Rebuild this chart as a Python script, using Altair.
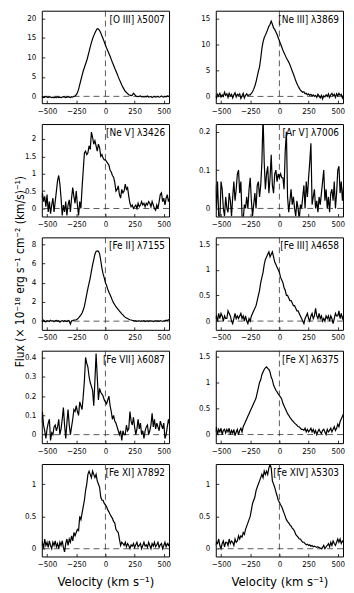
import altair as alt
import pandas as pd

# velocity grid (km/s)
VELOCITY = list(range(-550, 551, 10))
X_TICKS = [-500, -250, 0, 250, 500]

O_III_5007 = [
    -0.2, -0.1, -0.3, -0.2, 0.0, -0.2, -0.3, -0.1, -0.2, -0.3,
    -0.2, -0.4, -0.2, -0.3, -0.1, -0.3, -0.2, -0.3, -0.2, -0.1,
    -0.2, -0.3, -0.2, -0.1, -0.2, -0.3, -0.1, -0.2, 0.0, 0.1,
    0.4, 0.9, 1.8, 3.0, 4.2, 5.4, 6.5, 7.4, 8.3, 9.2,
    10.3, 11.5, 12.7, 13.8, 14.8, 15.6, 16.3, 16.9, 17.4, 17.3,
    16.9, 16.3, 15.5, 14.8, 14.0, 13.2, 12.4, 11.7, 11.0, 10.3,
    9.5, 8.7, 8.0, 7.2, 6.5, 5.8, 5.0, 4.3, 3.6, 2.9,
    2.3, 1.8, 1.3, 1.0, 0.7, 0.4, 0.3, 0.2, 0.3, 0.8,
    0.5, 0.1, 0.0, -0.1, 0.0, 0.1, -0.1, 0.0, -0.2, 0.0,
    -0.1, 0.1, -0.2, -0.1, 0.0, -0.3, -0.1, 0.0, -0.2, -0.1,
    0.0, -0.2, -0.1, 0.1, -0.1, -0.2, 0.0, -0.1, 0.1, 0.0,
    0.1,
]

NE_III_3869 = [
    0.2, -0.3, 0.4, 0.1, 0.6, -0.1, 0.3, 0.0, 0.8, 0.2,
    0.5, -0.2, 0.6, 0.1, 0.4, -0.3, 0.3, 0.7, -0.1, 0.4,
    0.2, 0.5, -0.4, 0.1, 0.6, -0.3, 0.2, 0.5, 0.1, 0.3,
    0.3, 0.6, 0.9, 1.4, 2.0, 2.8, 3.8, 4.8, 5.7, 7.3,
    9.2, 10.5, 11.3, 11.8, 12.3, 12.9, 13.5, 13.9, 14.5, 13.9,
    13.2, 12.9, 12.4, 11.9, 11.3, 10.7, 10.1, 9.5, 8.9, 8.4,
    7.9, 7.4, 7.0, 6.6, 6.1, 5.5, 4.9, 4.3, 3.7, 3.0,
    2.5, 2.0, 1.6, 1.2, 1.0, 0.8, 0.9, 0.5, 0.6, 0.3,
    0.5, 0.2, 0.4, 0.1, 0.3, 0.0, 0.2, -0.2, 0.4, 0.1,
    -0.3, 0.2, -0.5, 0.1, -0.1, 0.3, 0.0, 0.5, -0.2, 0.3,
    0.6, 0.1, 0.4, -0.2, 0.5, 0.1, 0.6, 0.2, 0.4, -0.3,
    0.3,
]

NE_V_3426 = [
    0.3, 0.45, 0.2, 0.35, 0.05, 0.4, -0.1, 0.2, -0.15, 0.1,
    0.3, -0.1, 0.2, 0.5, 0.8, 0.95, 0.7, 0.3, -0.2, 0.1,
    -0.1, 0.2, -0.2, 0.1, 0.25, -0.1, 0.3, 0.6, 0.35, 0.15,
    0.5, 0.1, -0.2, 0.2, 0.0, 0.6, 1.1, 1.6, 1.65, 1.55,
    1.6, 1.8, 1.7, 2.2, 2.05, 1.85, 1.95, 1.8, 1.65, 1.85,
    1.75, 1.5, 1.55, 1.45, 1.4, 1.4, 1.35, 1.3, 1.25, 1.1,
    1.05, 0.95, 0.9, 0.75, 0.5, 0.55, 0.65, 0.4, 0.3, 0.55,
    0.45, 0.5, 0.7, 0.55, 0.6, 0.35, 0.15, 0.05, 0.1, 0.0,
    0.05, 0.1, 0.0, 0.15, 0.05, 0.1, 0.2, 0.1, 0.15, 0.05,
    0.15, 0.1, 0.2, 0.15, 0.05, 0.2, 0.1, 0.0, -0.05, 0.1,
    0.0, 0.2, 0.4, 0.45, 0.2, 0.3, 0.1, 0.3, 0.4, 0.2,
    0.3,
]

AR_V_7006 = [
    0.06, 0.0, 0.07, -0.02, -0.03, 0.07, 0.05, 0.0, -0.02, 0.03,
    0.0, -0.01, 0.04, 0.02, -0.02, 0.03, 0.07, 0.02, 0.05, 0.09,
    0.1, 0.04, 0.07, -0.02, -0.03, 0.01, 0.0, 0.03, 0.0, 0.05,
    0.08, 0.02, -0.02, 0.01, 0.04, 0.0, 0.06, 0.07, 0.03, 0.06,
    0.12, 0.24, 0.12, 0.05, 0.09, 0.11, 0.04, 0.08, 0.14, 0.06,
    0.04, 0.09, 0.1, 0.07, 0.09, 0.08, 0.09, 0.08, 0.08, 0.05,
    0.15, 0.2, 0.03, -0.01, 0.02, 0.05, 0.01, 0.03, 0.0, -0.02,
    0.02, 0.0, -0.03, 0.01, 0.0, 0.03, 0.06, 0.0, 0.07, 0.03,
    0.08, 0.12, 0.17, 0.01, 0.03, 0.05, 0.0, 0.02, -0.01, 0.03,
    0.01, 0.04, 0.07, 0.1, 0.02, 0.05, 0.0, 0.03, -0.01, 0.04,
    0.05, 0.02, 0.07, 0.0, 0.04, 0.1, 0.11, 0.04, 0.07, 0.02,
    0.06,
]

FE_II_7155 = [
    0.05, -0.05, 0.1, 0.0, -0.08, 0.06, 0.02, -0.04, 0.08, 0.0,
    0.05, -0.06, 0.03, 0.07, -0.02, 0.04, -0.1, 0.02, 0.06, -0.03,
    0.05, 0.0, -0.05, 0.08, 0.02, -0.3, 0.03, 0.05, 0.1, 0.12,
    0.15, 0.22, 0.35, 0.5, 0.65, 0.85, 1.15, 1.55, 2.15, 2.8,
    3.4, 3.95, 4.5, 5.2, 5.85, 6.4, 6.95, 7.25, 7.3, 7.25,
    7.0, 6.3, 5.5, 4.9, 4.5, 4.0, 3.7, 3.3, 3.0, 2.75,
    2.45, 2.15, 1.9, 1.7, 1.5, 1.35, 1.2, 1.05, 0.9, 0.75,
    0.65, 0.5, 0.4, 0.32, 0.27, 0.2, 0.15, 0.12, 0.08, 0.05,
    0.0, 0.05, -0.03, 0.02, 0.04, -0.02, 0.03, 0.0, 0.05, -0.04,
    0.02, 0.04, -0.03, 0.05, 0.0, 0.03, -0.05, 0.02, 0.04, 0.0,
    0.03, -0.02, 0.05, 0.01, -0.03, 0.04, 0.02, 0.1, 0.05, 0.15,
    0.1,
]

FE_III_4658 = [
    0.05, 0.1, 0.0, 0.15, 0.05, 0.15, 0.1, 0.0, 0.1, 0.05,
    0.05, 0.2, 0.15, 0.1, 0.0, -0.05, 0.05, 0.15, 0.05, 0.1,
    0.05, 0.1, 0.15, 0.05, 0.1, 0.0, 0.1, 0.0, -0.05, 0.05,
    0.0, 0.1, 0.15, 0.2, 0.25, 0.3, 0.4, 0.5, 0.6, 0.75,
    0.85, 0.95, 1.1, 1.2, 1.25, 1.3, 1.35, 1.25, 1.3, 1.35,
    1.25, 1.15, 1.1, 1.05, 1.0, 0.95, 0.85, 0.8, 0.75, 0.65,
    0.6, 0.5, 0.5, 0.45, 0.4, 0.4, 0.35, 0.3, 0.3, 0.25,
    0.2, 0.2, 0.15, 0.1, 0.05, 0.0, -0.05, 0.05, 0.1, 0.15,
    0.05, 0.0, 0.1, 0.15, 0.05, 0.1, 0.25, 0.1, 0.05, 0.15,
    0.05, 0.1, 0.0, 0.05, 0.0, 0.1, 0.05, 0.1, 0.0, 0.1,
    0.05, -0.05, 0.05, 0.15, 0.1, 0.1, 0.2, 0.05, 0.15, 0.05,
    0.1,
]

FE_VII_6087 = [
    0.06, 0.12, 0.05, 0.02, -0.02, 0.03, 0.06, 0.08, -0.03, 0.01,
    0.0, 0.04, 0.05, 0.02, 0.04, 0.08, 0.0, 0.03, 0.08, 0.14,
    0.05, -0.02, 0.06, 0.13, 0.05, 0.0, 0.04, 0.08, 0.13, 0.12,
    0.15, 0.12, 0.1, 0.17, 0.15, 0.13, 0.2, 0.28, 0.4, 0.37,
    0.35, 0.3, 0.27, 0.25, 0.23, 0.15, 0.28, 0.42, 0.3, 0.18,
    0.24, 0.22, 0.21, 0.2, 0.18, 0.17, 0.16, 0.18, 0.2, 0.15,
    0.12, 0.08, 0.1, 0.07, 0.06, 0.04, 0.02, 0.0, 0.02, -0.03,
    0.02, 0.0, 0.0, 0.05, 0.02, 0.03, 0.12, 0.07, 0.05, 0.09,
    0.04, 0.0, 0.03, 0.08, 0.03, 0.06, 0.0, 0.02, -0.02, 0.02,
    0.04, 0.05, 0.0, 0.02, 0.05, 0.11, 0.04, 0.08, 0.03, 0.06,
    0.04, 0.02, 0.07, 0.05, 0.03, 0.06, -0.02, 0.0, 0.04, 0.08,
    0.05,
]

FE_X_6375 = [
    0.05, 0.15, 0.0, 0.1, 0.05, 0.12, 0.0, 0.08, 0.1, 0.03,
    0.1, 0.05, 0.12, 0.0, 0.08, 0.03, 0.1, -0.02, 0.05, 0.1,
    0.0, 0.08, 0.12, 0.05, 0.15, 0.2, 0.25, 0.3, 0.35, 0.4,
    0.45, 0.5, 0.55, 0.6, 0.65, 0.7, 0.8, 0.9, 1.0, 1.05,
    1.15, 1.2, 1.25, 1.28, 1.3, 1.27, 1.25, 1.2, 1.1, 1.05,
    0.95, 0.9, 0.85, 0.82, 0.78, 0.75, 0.72, 0.68, 0.6, 0.55,
    0.5, 0.45, 0.4, 0.37, 0.33, 0.3, 0.27, 0.25, 0.22, 0.2,
    0.18, 0.15, 0.15, 0.12, 0.1, 0.1, 0.08, 0.12, 0.05, 0.1,
    0.05, 0.08, 0.12, 0.05, 0.1, 0.03, 0.08, 0.0, 0.06, 0.1,
    0.05, 0.02, 0.08, 0.1, 0.05, 0.0, 0.1, 0.05, 0.08, 0.12,
    0.05, 0.1, 0.15, 0.08, 0.12, 0.2, 0.15, 0.25, 0.3, 0.35,
    0.4,
]

FE_XI_7892 = [
    0.05, 0.1, 0.0, 0.15, 0.05, 0.1, 0.02, 0.12, 0.05, 0.0,
    0.1, 0.05, 0.12, 0.03, 0.08, 0.0, 0.1, 0.05, 0.12, 0.02,
    -0.05, 0.08, 0.15, 0.05, 0.15, 0.1, 0.2, 0.12, 0.25, 0.2,
    0.25, 0.3, 0.28, 0.5, 0.45, 0.55, 0.65, 0.75, 0.9, 1.0,
    1.15, 1.2, 1.15, 1.1, 1.2, 1.15, 1.1, 1.15, 1.05, 1.0,
    0.95, 0.8, 0.75, 0.75, 0.7, 0.68, 0.65, 0.6, 0.57, 0.53,
    0.5, 0.47, 0.42, 0.4, 0.3, 0.27, 0.25, 0.15, 0.05, 0.1,
    0.08, 0.05, 0.1, 0.03, 0.08, 0.05, 0.0, 0.06, 0.04, 0.08,
    0.02, 0.06, 0.1, 0.03, 0.05, 0.08, 0.0, 0.05, 0.1, 0.04,
    0.06, 0.02, 0.1, 0.05, 0.0, 0.08, 0.04, 0.1, 0.03, 0.06,
    0.1, 0.02, 0.06, 0.08, 0.0, 0.05, 0.1, 0.03, 0.08, 0.05,
    0.1,
]

FE_XIV_5303 = [
    0.05, 0.1, 0.08, 0.15, 0.05, 0.0, 0.08, 0.12, 0.03, 0.1,
    0.1, 0.05, 0.15, 0.08, 0.12, 0.1, 0.05, 0.15, 0.1, 0.12,
    0.2, 0.15, 0.2, 0.18, 0.25, 0.22, 0.3, 0.35, 0.4, 0.45,
    0.5, 0.6, 0.7, 0.75, 0.8, 0.9, 0.95, 1.0, 1.05, 1.1,
    1.15, 1.1, 1.2, 1.15, 1.2, 1.15, 1.25, 1.3, 1.25, 1.05,
    1.0, 0.95, 0.88, 0.82, 0.75, 0.72, 0.68, 0.65, 0.6, 0.55,
    0.5, 0.45, 0.42, 0.4, 0.37, 0.35, 0.32, 0.3, 0.27, 0.22,
    0.2, 0.18, 0.15, 0.15, 0.12, 0.1, 0.1, 0.08, 0.06, 0.07,
    0.05, 0.06, 0.04, 0.05, 0.03, 0.04, 0.03, 0.02, 0.03, 0.02,
    0.01, 0.0, 0.02, 0.05, 0.0, 0.03, 0.05, 0.08, 0.03, 0.1,
    0.05, 0.12, 0.08, 0.05, 0.1, 0.15, 0.1, 0.15, 0.08, 0.12,
    0.1,
]

SERIES = [O_III_5007, NE_III_3869, NE_V_3426, AR_V_7006, FE_II_7155,
          FE_III_4658, FE_VII_6087, FE_X_6375, FE_XI_7892, FE_XIV_5303]
LABELS = ["[O III] λ5007", "[Ne III] λ3869", "[Ne V] λ3426", "[Ar V] λ7006",
          "[Fe II] λ7155", "[Fe III] λ4658", "[Fe VII] λ6087", "[Fe X] λ6375",
          "[Fe XI] λ7892", "[Fe XIV] λ5303"]
Y_TICKS = [[0, 5, 10, 15, 20], [0, 5, 10, 15], [0, 0.5, 1, 1.5, 2], [0, 0.1, 0.2],
           [0, 2, 4, 6, 8], [0, 0.5, 1, 1.5], [0, 0.1, 0.2, 0.3, 0.4],
           [0, 0.5, 1, 1.5], [0, 0.5, 1], [0, 0.5, 1]]
Y_DOMAINS = [[-1.75, 22], [-1.3, 16.5], [-0.23, 2.43], [-0.021, 0.22],
             [-0.9, 8.7], [-0.17, 1.63], [-0.044, 0.435], [-0.165, 1.61],
             [-0.12, 1.31], [-0.12, 1.31]]
X_DOMAIN = [-545, 545]

X_TITLE = "Velocity (km s⁻¹)"
Y_TITLE = "Flux (× 10⁻¹⁸ erg s⁻¹ cm⁻² (km/s)⁻¹)"

FONT = "Liberation Sans Narrow, DejaVu Sans Condensed, Liberation Sans, sans-serif"
W, H = 128, 93
TICK = 3


def panel(i):
    vals = SERIES[i]
    assert len(vals) == len(VELOCITY), (i, len(vals))
    df = pd.DataFrame({"v": VELOCITY, "f": vals})
    bottom = i >= 8
    ytitle_panel = i == 4

    x_axis_kw = dict(values=X_TICKS, labelFlush=False, labelOverlap=False,
                     title=X_TITLE if bottom else None)
    y_axis_kw = dict(values=Y_TICKS[i], format=".4~g", labelOverlap=False)
    if ytitle_panel:
        y_axis_kw.update(title=Y_TITLE, titleX=-25, titleY=34, titleAngle=270,
                         titleAlign="center", titleBaseline="middle", titleFontSize=12)
    else:
        y_axis_kw["title"] = None

    x = alt.X("v:Q", scale=alt.Scale(domain=X_DOMAIN, nice=False, zero=False),
              axis=alt.Axis(**x_axis_kw))
    y = alt.Y("f:Q", scale=alt.Scale(domain=Y_DOMAINS[i], nice=False, zero=False),
              axis=alt.Axis(**y_axis_kw))

    hrule = alt.Chart(pd.DataFrame({"f": [0]})).mark_rule(
        color="#333", strokeWidth=0.8, strokeDash=[6, 4]).encode(y=y)
    vrule = alt.Chart(pd.DataFrame({"v": [0]})).mark_rule(
        color="#333", strokeWidth=0.8, strokeDash=[6, 4]).encode(x=x)
    line = alt.Chart(df).mark_line(color="black", strokeWidth=1.2, clip=True).encode(x=x, y=y)
    label = alt.Chart(pd.DataFrame({"t": [LABELS[i]]})).mark_text(
        align="right", baseline="middle", fontSize=10, font=FONT, color="black"
    ).encode(text="t:N", x=alt.value(W - 4), y=alt.value(9))
    return alt.layer(hrule, vrule, line, label).properties(width=W, height=H)


chart = alt.concat(
    *[panel(i) for i in range(10)],
    columns=2,
    spacing=alt.RowColnumber(row=21, column=47),
    bounds="flush",
).properties(
    padding={"left": 5, "top": 0, "right": 0, "bottom": 0}
).configure_view(
    stroke="black", strokeWidth=1
).configure_axis(
    labelFont=FONT, titleFont=FONT, labelFontSize=8, titleFontSize=13,
    labelColor="black", titleColor="black", titleFontWeight="normal",
    ticks=True, tickSize=TICK, tickColor="black", tickWidth=0.8,
    offset=-TICK, domain=False, grid=False
).configure_axisX(
    labelPadding=4, titlePadding=7
).configure_axisY(
    labelPadding=6
)

chart.save("out.html", embed_options={"renderer": "svg", "actions": False})
